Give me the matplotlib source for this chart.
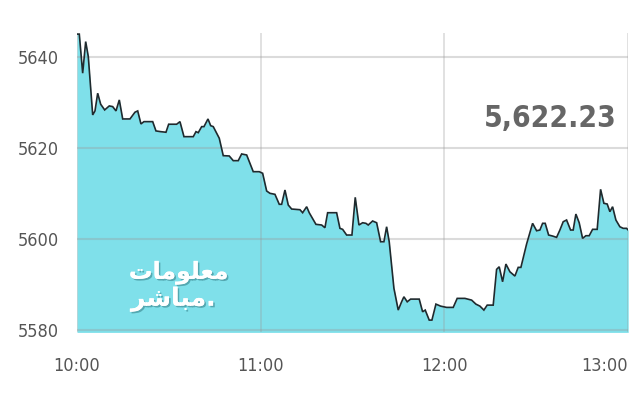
import matplotlib
matplotlib.use("Agg")
import matplotlib.pyplot as plt
import matplotlib.patheffects as pe
from matplotlib import font_manager as fm

# minutes after 10:00
minutes = [0.0, 0.75, 1.86, 2.84, 3.69, 5.13, 5.88, 6.76, 7.74, 9.05, 10.55, 11.66, 12.74, 13.82,
           14.93, 17.31, 18.94, 19.83, 20.90, 21.88, 24.73, 25.80, 27.34, 29.07, 29.95, 32.56,
           33.64, 34.95, 37.99, 38.87, 39.62, 40.73, 41.48, 42.79, 43.67, 44.52, 46.48, 47.78,
           49.74, 51.05, 52.68, 53.79, 55.43, 57.58, 59.54, 60.65, 61.96, 63.04, 64.67, 66.08,
           66.86, 67.94, 69.02, 70.13, 72.84, 73.72, 75.03, 75.87, 78.06, 79.93, 81.00, 81.88,
           84.82, 85.90, 86.78, 88.09, 89.82, 90.90, 92.11, 93.32, 94.39, 95.14, 96.58, 97.89,
           99.19, 100.27, 101.15, 102.00, 103.54, 103.87, 104.94, 106.05, 106.80, 107.88, 108.99,
           111.80, 112.91, 113.76, 115.07, 115.95, 117.26, 118.79, 120.75, 122.91, 124.21, 126.73,
           128.92, 130.32, 131.63, 132.93, 134.01, 135.97, 137.08, 137.93, 139.04, 140.12, 141.43,
           143.06, 144.14, 145.02, 146.88, 148.84, 150.15, 151.23, 152.11, 152.96, 154.07, 155.37,
           156.68, 157.76, 158.84, 159.94, 161.25, 162.10, 162.98, 164.06, 165.17, 166.25, 167.33,
           168.44, 169.94, 171.05, 172.13, 173.21, 174.09, 174.97, 176.05, 177.35, 178.43, 179.54,
           180.07]
values = [5645.0, 5645.0, 5636.42, 5643.36, 5640.07, 5627.25, 5628.13, 5632.02, 5629.60, 5628.35,
          5629.23, 5629.08, 5628.13, 5630.55, 5626.37, 5626.37, 5627.85, 5628.13, 5625.27, 5625.78,
          5625.78, 5623.74, 5623.58, 5623.45, 5625.21, 5625.21, 5625.78, 5622.48, 5622.48, 5623.58,
          5623.36, 5624.68, 5624.68, 5626.37, 5624.90, 5624.68, 5622.13, 5618.31, 5618.24, 5617.21,
          5617.21, 5618.68, 5618.46, 5614.79, 5614.79, 5614.44, 5610.55, 5610.04, 5609.82, 5607.63,
          5607.63, 5610.77, 5607.47, 5606.59, 5606.44, 5605.78, 5607.10, 5605.78, 5603.23, 5603.08,
          5602.48, 5605.78, 5605.78, 5602.35, 5602.13, 5600.88, 5600.88, 5609.16, 5603.08, 5603.58,
          5603.45, 5603.08, 5603.96, 5603.58, 5599.41, 5599.41, 5602.70, 5599.41, 5589.16, 5588.07,
          5584.40, 5586.22, 5587.32, 5586.22, 5586.81, 5586.81, 5584.02, 5584.40, 5582.20, 5582.20,
          5585.71, 5585.27, 5584.99, 5584.99, 5586.97, 5586.97, 5586.59, 5585.71, 5585.27, 5584.40,
          5585.49, 5585.49, 5593.34, 5593.91, 5590.62, 5594.51, 5592.81, 5591.87, 5593.78, 5593.78,
          5598.90, 5603.45, 5601.82, 5601.98, 5603.45, 5603.45, 5600.88, 5600.66, 5600.37, 5601.98,
          5603.80, 5604.18, 5601.98, 5601.98, 5605.49, 5603.58, 5600.15, 5600.73, 5600.73, 5602.13,
          5602.13, 5610.92, 5607.85, 5607.69, 5606.00, 5607.10, 5604.18, 5602.70, 5602.35, 5602.35,
          5601.98]

x_ticks = [0, 60, 120, 180]
x_labels = ["10:00", "11:00", "12:00", "13:00"]
y_ticks = [5580, 5600, 5620, 5640]
y_labels = ["5580", "5600", "5620", "5640"]
last_value = "5,622.23"
logo_top = "\uFE95\uFE8E\uFEE3\uFEEE\uFEE0\uFECC\uFEE3"   # معلومات (shaped)
logo_bottom = "\uFEAE\uFEB7\uFE8E\uFE92\uFEE3"            # مباشر (shaped)

names = {f.name for f in fm.fontManager.ttflist}
tick_family = "Liberation Sans Narrow" if "Liberation Sans Narrow" in names else "DejaVu Sans"

fig = plt.figure(figsize=(6.4, 4.0), dpi=100)
ax = fig.add_axes([0.1203, 0.169, 0.8614, 0.748])
ymin, ymax = 5579.5, 5645.2
ax.set_xlim(0, 180.1)
ax.set_ylim(ymin, ymax)

ax.fill_between(minutes, values, ymin, color="#7fe0ea", lw=0, zorder=1)
ax.plot(minutes, values, color="#1f2a2e", lw=1.2, zorder=4, solid_joinstyle="miter")

for xt in x_ticks:
    ax.axvline(xt, color="#9a9a9a", alpha=0.35, lw=1.2, zorder=2)
for yt in y_ticks:
    ax.axhline(yt, color="#9a9a9a", alpha=0.35, lw=1.5, zorder=2)

for s in ax.spines.values():
    s.set_visible(False)
ax.set_xticks(x_ticks)
ax.set_xticklabels(x_labels)
ax.set_yticks(y_ticks)
ax.set_yticklabels(y_labels)
ax.tick_params(length=0, labelsize=13, labelcolor="#555555")
ax.tick_params(axis="y", pad=13)
ax.tick_params(axis="x", pad=18)
for lab in ax.get_xticklabels() + ax.get_yticklabels():
    lab.set_fontfamily(tick_family)
    lab.set_fontstretch("condensed")
ax.get_xticklabels()[-1].set_horizontalalignment("right")

fig.text(0.964, 0.703, last_value, ha="right", va="center", fontsize=21.5,
         fontweight="bold", color="#666666", family=tick_family, fontstretch="condensed")

shadow = [pe.withSimplePatchShadow(offset=(1.2, -1.2), shadow_rgbFace="#4a9aa3", alpha=0.8), pe.Normal()]
fig.text(0.357, 0.318, logo_top, ha="right", va="center", fontsize=17, fontweight="bold",
         color="white", family="DejaVu Sans", path_effects=shadow)
fig.text(0.337, 0.252, logo_bottom + ".", ha="right", va="center", fontsize=18, fontweight="bold",
         color="white", family="DejaVu Sans", path_effects=shadow)

fig.savefig("out.png", dpi=100)
